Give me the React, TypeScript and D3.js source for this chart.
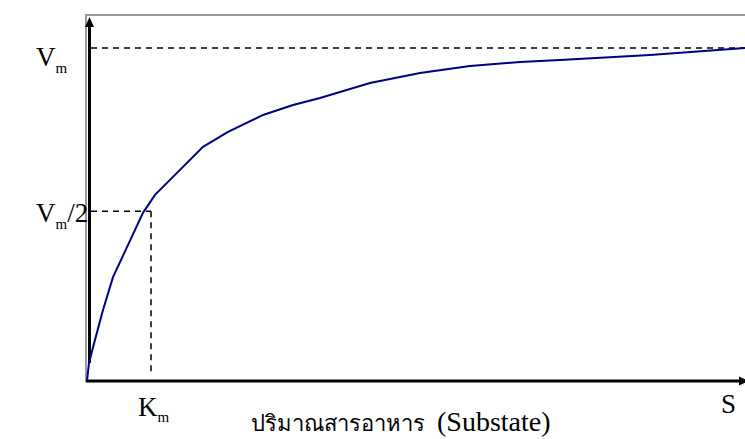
import React from "react";
import * as d3 from "d3";

// Substrate concentration (S, % of axis) and reaction rate (v / Vm)
const sValues = [0, 0.3, 1.37, 2.43, 3.95, 6.08, 8.51, 10.33, 12.61, 17.63, 21.43, 26.75, 31.31, 35.41, 43.01, 50.61, 58.21, 65.81, 71.88, 85.56, 100];
const vValues = [0, 0.054, 0.135, 0.213, 0.312, 0.402, 0.505, 0.559, 0.604, 0.703, 0.748, 0.799, 0.829, 0.85, 0.895, 0.925, 0.946, 0.958, 0.964, 0.979, 1.0];

const vmValue = 1.0;
const vmHalfValue = 0.51;
const kmValue = 9.73;

const xLabelThai = "ปริมาณสารอาหาร";
const xLabelLatin = "(Substate)";

const W = 745;
const H = 439;

export default function App() {
  const x = d3.scaleLinear().domain([0, 100]).range([87, 745]);
  const y = d3.scaleLinear().domain([0, 1]).range([381, 48]);

  const pts: [number, number][] = sValues.map((s, i) => [x(s), y(vValues[i])]);
  const line = d3.line<[number, number]>().x((d) => d[0]).y((d) => d[1]).curve(d3.curveLinear);

  const font = "Liberation Serif, serif";
  const big = 27;
  const small = 15;

  return (
    <div style={{ position: "fixed", left: 0, top: 0, width: W, height: H, background: "#fff" }}>
      <svg width={W} height={H} style={{ display: "block", fontFamily: font }}>
        {/* gray frame */}
        <line x1={86} x2={W} y1={15} y2={15} stroke="#999" strokeWidth={2} />
        <line x1={86} x2={86} y1={14} y2={382} stroke="#999" strokeWidth={2} />
        {/* y axis */}
        <line x1={89.5} x2={89.5} y1={y(0.054)} y2={26} stroke="#000" strokeWidth={3} />
        <path d={`M89.5,17 L85,27 L94,27 Z`} fill="#000" />
        {/* x axis */}
        <line x1={86} x2={740} y1={381} y2={381} stroke="#000" strokeWidth={3} />
        <path d={`M749,381 L739,376.5 L739,385.5 Z`} fill="#000" />
        {/* Vm dashed */}
        <line x1={91} x2={W} y1={y(vmValue)} y2={y(vmValue)} stroke="#000" strokeWidth={1.5} strokeDasharray="6,5" />
        {/* Vm/2 & Km dashed */}
        <line x1={91} x2={x(kmValue)} y1={y(vmHalfValue)} y2={y(vmHalfValue)} stroke="#000" strokeWidth={1.5} strokeDasharray="6,5" />
        <line x1={x(kmValue)} x2={x(kmValue)} y1={y(vmHalfValue)} y2={372} stroke="#000" strokeWidth={1.5} strokeDasharray="6,5" />
        {/* curve */}
        <path d={line(pts) || ""} fill="none" stroke="#000080" strokeWidth={2} />
        {/* labels */}
        <text x={36} y={66} fontFamily={font} fontSize={big} fill="#000">
          V<tspan fontSize={small} dy={7}>m</tspan>
        </text>
        <text x={36} y={222} fontFamily={font} fontSize={big} fill="#000">
          V<tspan fontSize={small} dy={7}>m</tspan>
          <tspan dy={-7}>/2</tspan>
        </text>
        <text x={138} y={416} fontFamily={font} fontSize={big} fill="#000">
          K<tspan fontSize={small} dy={6}>m</tspan>
        </text>
        <text x={721} y={413} fontFamily={font} fontSize={big} fill="#000">S</text>
        <text x={251} y={431} fontFamily={font} fill="#000">
          <tspan fontSize={22}>{xLabelThai}</tspan>
          <tspan x={437} fontSize={28}>{xLabelLatin}</tspan>
        </text>
      </svg>
    </div>
  );
}
